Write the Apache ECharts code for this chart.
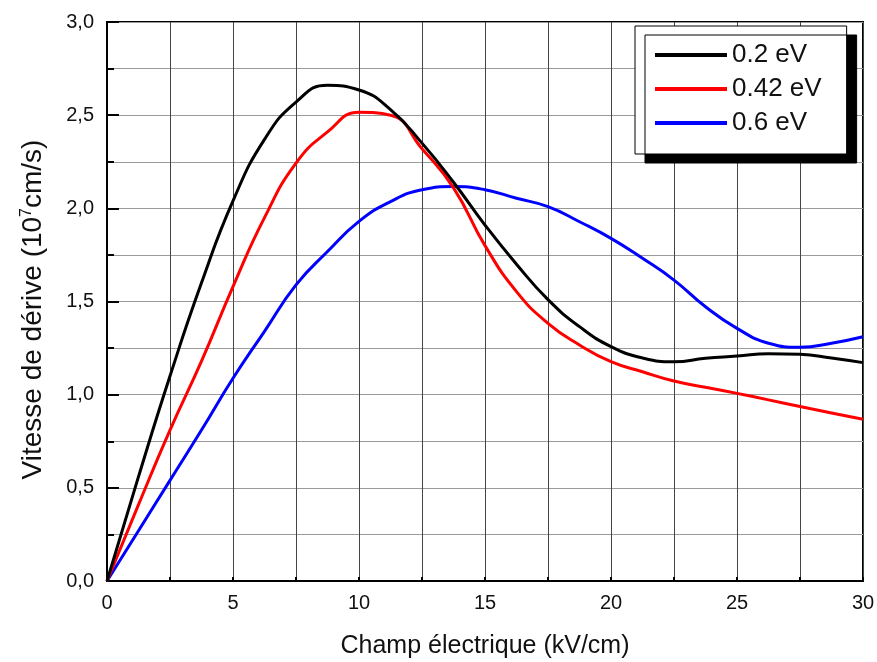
<!DOCTYPE html>
<html>
<head>
<meta charset="utf-8">
<script src="https://cdn.jsdelivr.net/npm/echarts@6/dist/echarts.min.js"></script>
<style>
  html, body { margin: 0; padding: 0; background: #fff; }
  #chart { width: 877px; height: 662px; }
</style>
</head>
<body>
<div id="chart"></div>
<script>
// Champ électrique (kV/cm)
const fieldKVcm = [0, 1.25, 2.5, 3.75, 5, 6.25, 7.5, 8.75, 10, 11.25, 12.5, 13.75, 15, 16.25, 17.5, 18.75, 20, 21.25, 22.5, 23.75, 25, 26.25, 27.5, 28.75, 30];

// Vitesse de dérive (10^7 cm/s) pour chaque énergie
const v02eV  = [0, 0.56, 1.10, 1.60, 2.04, 2.37, 2.57, 2.66, 2.635, 2.53, 2.35, 2.14, 1.91, 1.70, 1.51, 1.365, 1.258, 1.197, 1.176, 1.195, 1.207, 1.22, 1.217, 1.197, 1.172];
const v042eV = [0, 0.41, 0.81, 1.18, 1.58, 1.95, 2.243, 2.41, 2.515, 2.50, 2.32, 2.11, 1.80, 1.553, 1.383, 1.267, 1.177, 1.123, 1.073, 1.04, 1.007, 0.972, 0.936, 0.902, 0.868];
const v06eV  = [0, 0.27, 0.54, 0.81, 1.088, 1.34, 1.589, 1.768, 1.93, 2.036, 2.10, 2.117, 2.10, 2.054, 2.009, 1.928, 1.839, 1.732, 1.615, 1.472, 1.356, 1.276, 1.254, 1.276, 1.311];

const seriesNames = ['0.2 eV', '0.42 eV', '0.6 eV'];
const seriesColors = ['#000000', '#ff0000', '#0000ff'];

const xTicks = [0, 5, 10, 15, 20, 25, 30];
const yTicks = [0, 0.5, 1.0, 1.5, 2.0, 2.5, 3.0];

function pairs(xs, ys) { return xs.map((x, i) => [x, ys[i]]); }

const chart = echarts.init(document.getElementById('chart'), null, { renderer: 'canvas' });

const fontFamily = '"Liberation Sans", Arial, sans-serif';

chart.setOption({
  backgroundColor: '#ffffff',
  animation: false,
  textStyle: { fontFamily: fontFamily },
  grid: {
    left: 107, top: 22, right: 14, bottom: 81,
    outerBoundsMode: 'none',
    containLabel: false,
    show: true, borderColor: '#000', borderWidth: 2, backgroundColor: 'transparent'
  },
  legend: {
    orient: 'vertical',
    left: 635, top: 26,
    padding: [16, 25, 18, 20],
    itemGap: 8,
    icon: 'rect',
    itemWidth: 72,
    itemHeight: 4,
    backgroundColor: '#ffffff',
    borderColor: '#000', borderWidth: 1,
    shadowColor: '#000', shadowBlur: 0, shadowOffsetX: 10, shadowOffsetY: 9,
    textStyle: { fontSize: 26, color: '#111', fontFamily: fontFamily },
    data: seriesNames
  },
  xAxis: {
    type: 'value',
    min: xTicks[0], max: xTicks[xTicks.length - 1], interval: 5,
    name: 'Champ électrique (kV/cm)',
    nameLocation: 'middle', nameGap: 53,
    nameTextStyle: { fontSize: 25, color: '#111' },
    axisLine: { show: true, lineStyle: { color: '#000', width: 2 } },
    axisTick: { show: true, inside: true, length: 4, lineStyle: { color: '#000', width: 2 } },
    minorTick: { show: true, splitNumber: 2, length: 4, lineStyle: { color: '#000', width: 2 } },
    axisLabel: { fontSize: 20, color: '#111', margin: 12 },
    splitLine: { show: true, lineStyle: { color: '#444', width: 1 } },
    minorSplitLine: { show: true, lineStyle: { color: '#444', width: 1 } }
  },
  yAxis: {
    type: 'value',
    min: yTicks[0], max: yTicks[yTicks.length - 1], interval: 0.5,
    name: 'Vitesse de dérive (10{sup|7}cm/s)',
    nameLocation: 'middle', nameGap: 60,
    nameTextStyle: {
      fontSize: 28, color: '#111',
      padding: [0, 16, 0, 0],
      rich: { sup: { fontSize: 16, color: '#111', padding: [0, 0, 12, 0] } }
    },
    axisLine: { show: true, lineStyle: { color: '#000', width: 2 } },
    axisTick: { show: true, inside: true, length: 12, lineStyle: { color: '#000', width: 2 } },
    minorTick: { show: true, splitNumber: 2, length: 7, lineStyle: { color: '#000', width: 2 } },
    axisLabel: {
      fontSize: 20, color: '#111', margin: 13,
      formatter: v => v.toFixed(1).replace('.', ',')
    },
    splitLine: { show: true, lineStyle: { color: '#9a9a9a', width: 1 } },
    minorSplitLine: { show: true, lineStyle: { color: '#9a9a9a', width: 1 } }
  },
  series: [v02eV, v042eV, v06eV].map((vals, i) => ({
    name: seriesNames[i],
    type: 'line',
    data: pairs(fieldKVcm, vals),
    smooth: 0.5,
    symbol: 'none',
    lineStyle: { color: seriesColors[i], width: 3 },
    itemStyle: { color: seriesColors[i] },
    z: 3 + (2 - i)
  }))
});
</script>
</body>
</html>
